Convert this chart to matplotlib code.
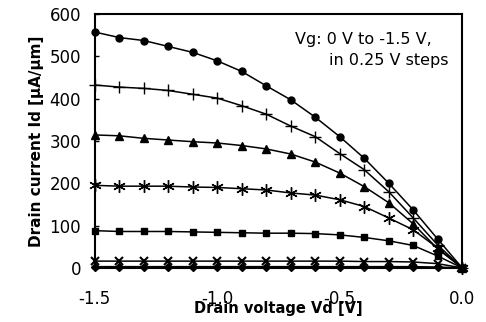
import numpy as np
import matplotlib
matplotlib.use("Agg")
import matplotlib.pyplot as plt

plt.rcParams['axes.unicode_minus'] = False
plt.rcParams['font.family'] = ['DejaVu Sans']

vd = [-1.5, -1.4, -1.3, -1.2, -1.1, -1.0, -0.9, -0.8, -0.7, -0.6, -0.5, -0.4, -0.3, -0.2, -0.1, 0.0]

id_vg_m150 = [557, 544, 537, 523, 509, 489, 464, 430, 397, 356, 310, 259, 200, 137, 68, 0]
id_vg_m125 = [432, 427, 424, 419, 410, 401, 383, 363, 335, 310, 270, 232, 180, 118, 54, 0]
id_vg_m100 = [314, 312, 306, 302, 298, 295, 289, 281, 269, 250, 224, 192, 154, 104, 45, 0]
id_vg_m075 = [195, 193, 193, 193, 191, 190, 187, 184, 177, 172, 161, 145, 118, 90, 47, 0]
id_vg_m050 = [88, 86, 86, 86, 85, 84, 83, 82, 82, 81, 78, 72, 64, 53, 28, 0]
id_vg_m025 = [16, 16, 16, 16, 16, 16, 16, 16, 16, 16, 16, 15, 15, 14, 10, 0]
id_vg_000 = [3, 3, 3, 3, 3, 3, 3, 3, 3, 3, 3, 3, 3, 3, 2, 0]

x_ticks = [-1.5, -1.0, -0.5, 0.0]
x_tick_labels = ["-1.5", "-1.0", "-0.5", "0.0"]
y_ticks = [0, 100, 200, 300, 400, 500, 600]

fig = plt.figure(figsize=(4.86, 3.22), dpi=100)
ax = fig.add_axes([0.195, 0.168, 0.756, 0.789])

series = [
    (id_vg_m150, dict(marker='o', markersize=5)),
    (id_vg_m125, dict(marker='+', markersize=8, markeredgewidth=1.0)),
    (id_vg_m100, dict(marker='^', markersize=6)),
    (id_vg_m075, dict(marker=(6, 2, 0), markersize=9, markeredgewidth=1.0)),
    (id_vg_m050, dict(marker='s', markersize=5)),
    (id_vg_m025, dict(marker='x', markersize=6, markeredgewidth=1.5)),
    (id_vg_000, dict(marker='D', markersize=4)),
]
for vals, st in series:
    ax.plot(vd, vals, color='black', linewidth=1.1, clip_on=False, **st)

ax.set_xlim(-1.5, 0.0)
ax.set_ylim(0, 600)
ax.set_xticks(x_ticks)
ax.set_xticklabels(x_tick_labels)
ax.set_yticks(y_ticks)
ax.tick_params(axis='both', direction='in', length=3, width=1, labelsize=12)
ax.tick_params(axis='y', pad=10)
ax.tick_params(axis='x', pad=16)
for sp in ax.spines.values():
    sp.set_linewidth(1.5)

ax.set_xlabel("Drain voltage Vd [V]", fontsize=10.5, fontweight='bold', labelpad=-5)
ax.set_ylabel("Drain current Id [µA/µm]", fontsize=11, fontweight='bold', labelpad=4)

ax.text(0.545, 0.93, "Vg: 0 V to -1.5 V,", transform=ax.transAxes,
        ha='left', va='top', fontsize=11.5)
ax.text(0.637, 0.845, "in 0.25 V steps", transform=ax.transAxes,
        ha='left', va='top', fontsize=11.5)

fig.savefig("out.png", dpi=100)
